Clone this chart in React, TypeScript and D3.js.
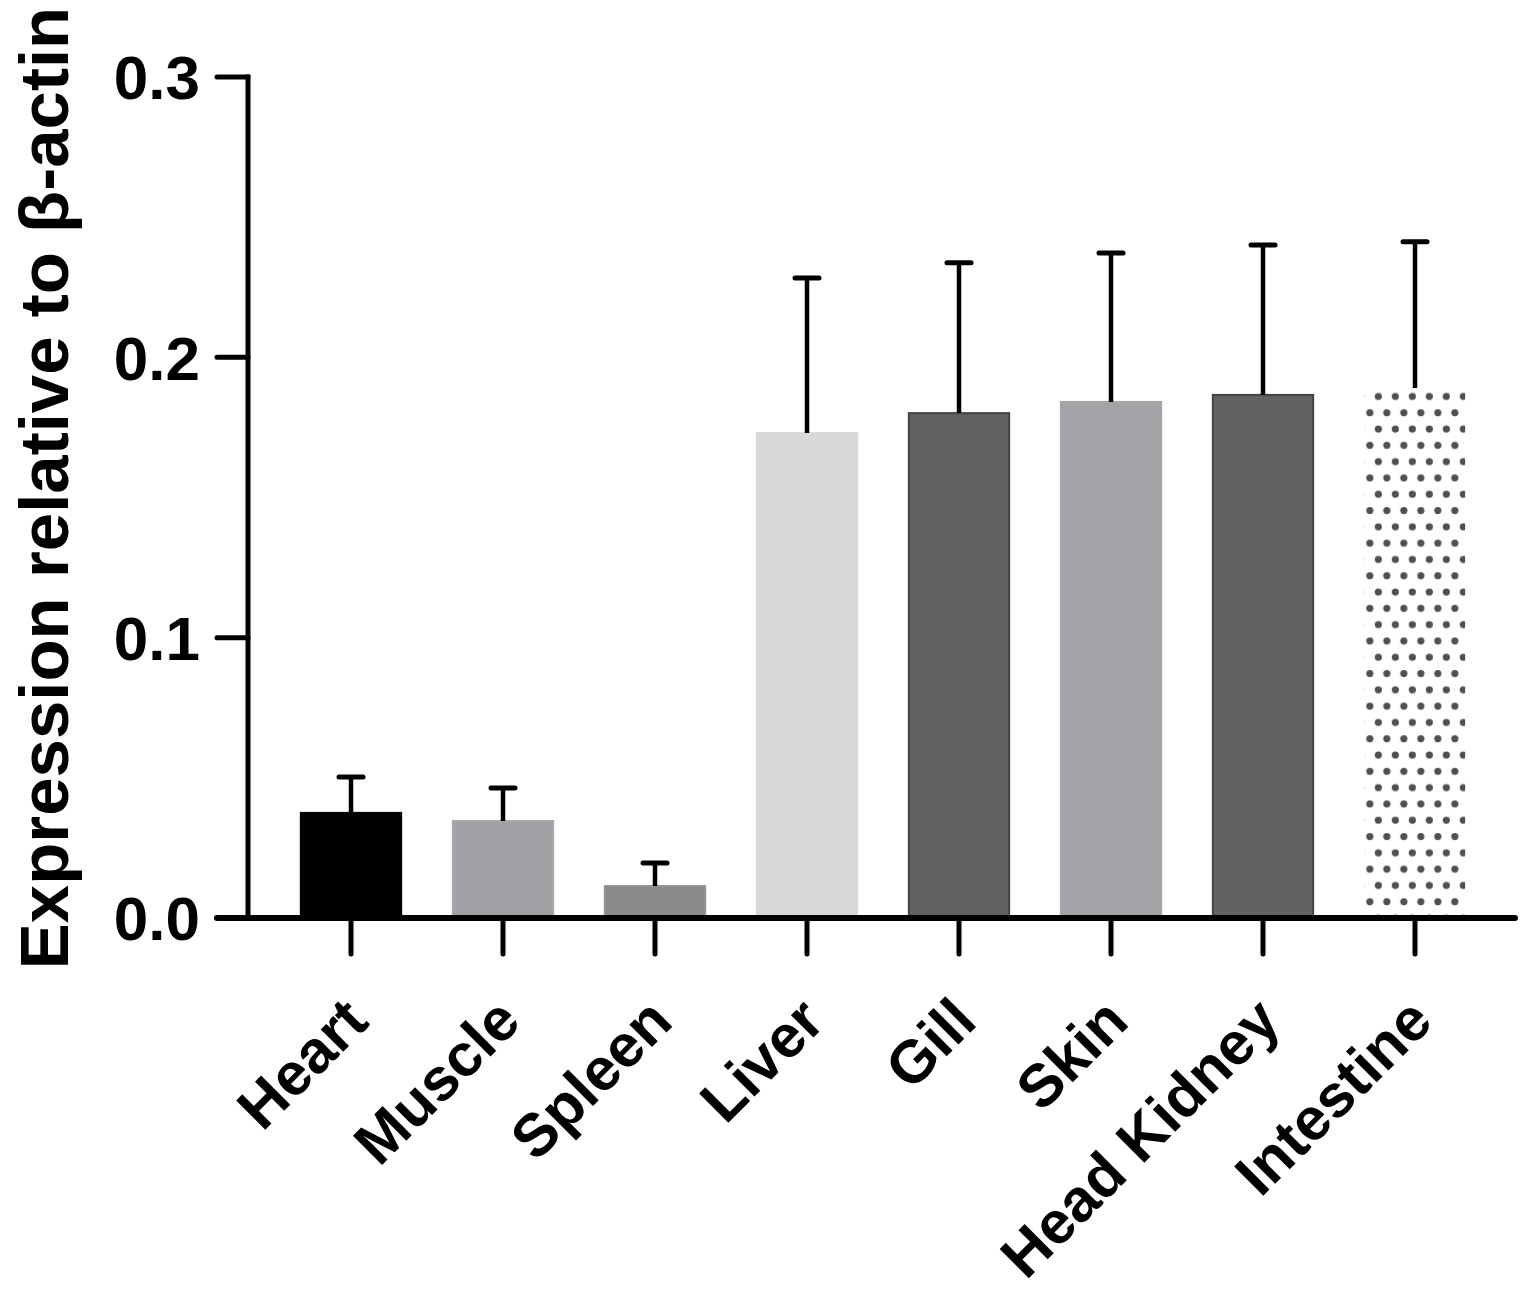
import React, { useEffect, useRef } from 'react';
import * as d3 from 'd3';

const tissues = ['Heart', 'Muscle', 'Spleen', 'Liver', 'Gill', 'Skin', 'Head Kidney', 'Intestine'];
const means = [0.0375, 0.0346, 0.0114, 0.173, 0.1801, 0.1841, 0.1866, 0.1891];
const upperErr = [0.0503, 0.0464, 0.0196, 0.2283, 0.2337, 0.2372, 0.2401, 0.2412];
const fills = ['#000000', '#a1a1a5', '#8a8a8a', '#d8d8d8', '#616161', '#a3a2a7', '#626262', 'url(#dots)'];
const strokes = ['#000000', '#a8a8ac', '#929292', '#dadada', '#444444', '#a6a5aa', '#444444', 'none'];
const yTicks = [0, 0.1, 0.2, 0.3];

const W = 1535;
const H = 1298;
const FONT = '"Liberation Sans", Arial, Helvetica, sans-serif';

export default function App() {
  const svgRef = useRef<SVGSVGElement>(null);

  useEffect(() => {
    if (!svgRef.current) return;
    const svg = d3.select(svgRef.current);
    svg.selectAll('*').remove();

    const x = d3.scaleBand<string>()
      .domain(tissues)
      .range([275, 1491])
      .paddingInner(0.34)
      .paddingOuter(0.17);

    const y = d3.scaleLinear().domain([0, 0.3]).range([918, 77]);

    // dotted fill for the last bar
    const defs = svg.append('defs');
    const pat = defs.append('pattern')
      .attr('id', 'dots')
      .attr('patternUnits', 'userSpaceOnUse')
      .attr('x', (x('Intestine') as number) + 5)
      .attr('y', y(0) - 4)
      .attr('width', 17)
      .attr('height', 32.6);
    pat.append('circle').attr('cx', 8.5).attr('cy', 4).attr('r', 3.6).attr('fill', '#505050');
    pat.append('circle').attr('cx', 0).attr('cy', 20.3).attr('r', 3.6).attr('fill', '#505050');
    pat.append('circle').attr('cx', 17).attr('cy', 20.3).attr('r', 3.6).attr('fill', '#505050');

    const g = svg.append('g');
    const bw = x.bandwidth();

    // bars
    g.selectAll('.bar')
      .data(tissues)
      .enter()
      .append('rect')
      .attr('x', d => x(d) as number)
      .attr('y', (d, i) => y(means[i]))
      .attr('width', bw)
      .attr('height', (d, i) => y(0) - y(means[i]))
      .attr('fill', (d, i) => fills[i])
      .attr('stroke', (d, i) => strokes[i])
      .attr('stroke-width', 2);

    // error bars (upper only)
    const cx = (d: string) => (x(d) as number) + bw / 2;
    g.selectAll('.err')
      .data(tissues)
      .enter()
      .append('line')
      .attr('x1', cx)
      .attr('x2', cx)
      .attr('y1', (d, i) => y(means[i]))
      .attr('y2', (d, i) => y(upperErr[i]))
      .attr('stroke', '#000')
      .attr('stroke-width', 4.5);

    g.selectAll('.cap')
      .data(tissues)
      .enter()
      .append('line')
      .attr('x1', d => cx(d) - 12)
      .attr('x2', d => cx(d) + 12)
      .attr('y1', (d, i) => y(upperErr[i]))
      .attr('y2', (d, i) => y(upperErr[i]))
      .attr('stroke', '#000')
      .attr('stroke-width', 5)
      .attr('stroke-linecap', 'round');

    // y axis
    const axisX = 248;
    g.append('line')
      .attr('x1', axisX).attr('x2', axisX)
      .attr('y1', y(0.3) - 2.5).attr('y2', y(0))
      .attr('stroke', '#000').attr('stroke-width', 5);

    g.selectAll('.ytick')
      .data(yTicks)
      .enter()
      .append('line')
      .attr('x1', 217).attr('x2', axisX)
      .attr('y1', d => y(d)).attr('y2', d => y(d))
      .attr('stroke', '#000').attr('stroke-width', 5)
      .attr('stroke-linecap', 'round');

    g.selectAll('.ylab')
      .data(yTicks)
      .enter()
      .append('text')
      .attr('x', 200)
      .attr('y', d => y(d))
      .attr('dy', '0.36em')
      .attr('text-anchor', 'end')
      .style('font-family', FONT)
      .style('font-weight', 'bold')
      .style('font-size', '62px')
      .text(d => d3.format('.1f')(d));

    // x axis
    g.append('line')
      .attr('x1', 217).attr('x2', 1515)
      .attr('y1', y(0)).attr('y2', y(0))
      .attr('stroke', '#000').attr('stroke-width', 6)
      .attr('stroke-linecap', 'round');

    g.selectAll('.xtick')
      .data(tissues)
      .enter()
      .append('line')
      .attr('x1', cx).attr('x2', cx)
      .attr('y1', y(0)).attr('y2', 954)
      .attr('stroke', '#000').attr('stroke-width', 5)
      .attr('stroke-linecap', 'round');

    g.selectAll('.xlab')
      .data(tissues)
      .enter()
      .append('text')
      .attr('transform', d => `translate(${cx(d) + 20}, 1024) rotate(-45)`)
      .attr('text-anchor', 'end')
      .style('font-family', FONT)
      .style('font-weight', 'bold')
      .style('font-size', '60px')
      .text(d => d);

    // y title
    g.append('text')
      .attr('transform', 'translate(68, 488) rotate(-90)')
      .attr('text-anchor', 'middle')
      .style('font-family', FONT)
      .style('font-weight', 'bold')
      .style('font-size', '69px')
      .text('Expression relative to β-actin');
  }, []);

  return (
    <svg
      ref={svgRef}
      width={W}
      height={H}
      style={{ position: 'absolute', left: 0, top: 0, background: '#fff' }}
    />
  );
}
